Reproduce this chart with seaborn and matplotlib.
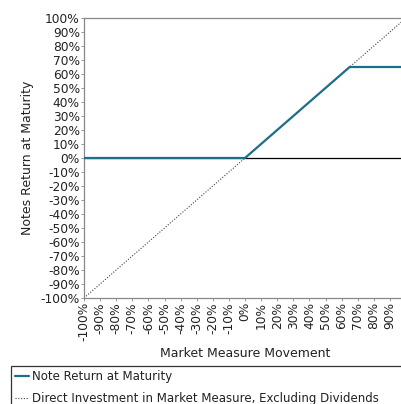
import numpy as np
import pandas as pd
import matplotlib
matplotlib.use("Agg")
import matplotlib.pyplot as plt
import seaborn as sns

# Payoff profile (percent)
movement = [-100, 0, 65, 100]
note_return = [0, 0, 65, 65]
direct_movement = [-100, 100]
direct_return = [-100, 100]
tick_values = list(range(-100, 101, 10))
tick_labels = [f"{v}%" for v in tick_values]

sns.set_style("white")
plt.rcParams['font.family'] = ['DejaVu Sans']

fig = plt.figure(figsize=(4.01, 4.04), dpi=100)
ax = fig.add_axes([84 / 401, 1 - 298 / 404, 322 / 401, 280 / 404])

note_df = pd.DataFrame({'x': movement, 'y': note_return})
direct_df = pd.DataFrame({'x': direct_movement, 'y': direct_return})

ax.axhline(0, color='black', lw=0.9, zorder=1)
sns.lineplot(data=direct_df, x='x', y='y', ax=ax, color='#444444', lw=0.8,
             linestyle=(0, (1, 1.5)), label='Direct Investment in Market Measure, Excluding Dividends',
             legend=False, zorder=2)
sns.lineplot(data=note_df, x='x', y='y', ax=ax, color='#1b6f87', lw=1.6,
             label='Note Return at Maturity', legend=False, zorder=3)

ax.set_xlim(-100, 100)
ax.set_ylim(-100, 100)
ax.set_xticks(tick_values)
ax.set_xticklabels(tick_labels, rotation=90, fontsize=8.8, color='#222222')
ax.set_yticks(tick_values)
ax.set_yticklabels(tick_labels, fontsize=8.8, color='#222222')
ax.tick_params(axis='both', length=2, pad=1, width=0.6, color='#888888')
ax.tick_params(axis='x', direction='out', bottom=True)
ax.tick_params(axis='y', direction='out', left=True)
for side in ['top', 'left', 'right', 'bottom']:
    ax.spines[side].set_color('#888888')
    ax.spines[side].set_linewidth(0.9)

ax.set_xlabel('Market Measure Movement', fontsize=9, color='#222222', labelpad=4)
ax.set_ylabel('Notes Return at Maturity', fontsize=9, color='#222222', labelpad=5)

handles, labels = ax.get_legend_handles_labels()
order = [1, 0]
leg = fig.legend([handles[i] for i in order], [labels[i] for i in order],
                 loc='upper left', bbox_to_anchor=(11 / 401, 0, 1.0, 1 - 366 / 404),
                 mode='expand', frameon=True, fancybox=False, edgecolor='black',
                 fontsize=8.5, handlelength=1.2, handletextpad=0.2, borderpad=0.35,
                 borderaxespad=0, labelspacing=0.75)
leg.get_frame().set_linewidth(0.9)
for t in leg.get_texts():
    t.set_color('#222222')

plt.savefig('out.png', dpi=100)
plt.close()
